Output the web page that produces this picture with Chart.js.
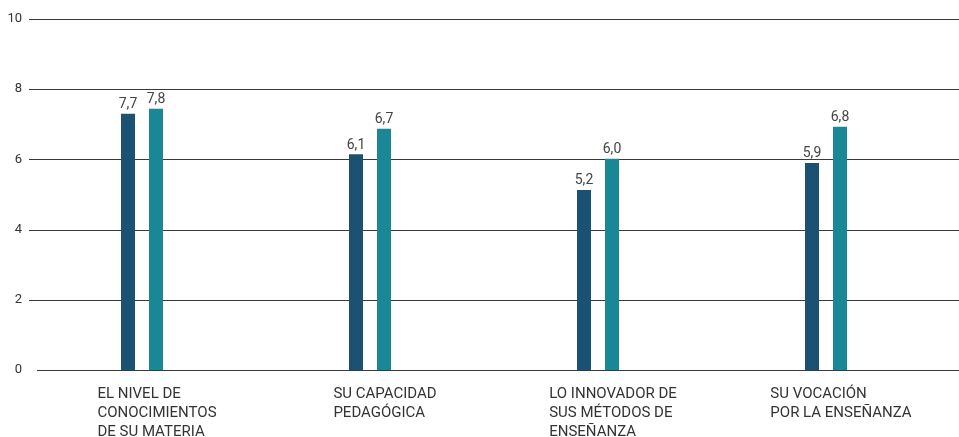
<!DOCTYPE html>
<html>
<head>
<meta charset="utf-8">
<script src="https://cdn.jsdelivr.net/npm/chart.js@4"></script>
<style>
  html, body { margin: 0; padding: 0; background: #fff; }
</style>
</head>
<body>
<canvas id="graficoProfesores" width="959" height="437"></canvas>
<script>
// Categorías (cada una en varias líneas)
const categorias = [
    ['EL NIVEL DE', 'CONOCIMIENTOS', 'DE SU MATERIA'],
    ['SU CAPACIDAD', 'PEDAGÓGICA'],
    ['LO INNOVADOR DE', 'SUS MÉTODOS DE', 'ENSEÑANZA'],
    ['SU VOCACIÓN', 'POR LA ENSEÑANZA']
];

// Alturas de las barras tal como aparecen dibujadas
const serieOscura = [7.3, 6.15, 5.13, 5.9];
const serieTurquesa = [7.44, 6.87, 6.02, 6.93];

// Valores impresos sobre cada barra
const etiquetasOscura = ['7,7', '6,1', '5,2', '5,9'];
const etiquetasTurquesa = ['7,8', '6,7', '6,0', '6,8'];

// Marcas del eje Y
const marcasY = [0, 2, 4, 6, 8, 10];

const colorOscuro = '#1b5274';
const colorTurquesa = '#1a8796';

// Líneas horizontales que llegan hasta el borde derecho
const lineasFondo = {
    id: 'lineasFondo',
    beforeDatasetsDraw(chart) {
        const { ctx, scales: { y } } = chart;
        ctx.save();
        ctx.strokeStyle = '#3a3a3a';
        ctx.lineWidth = 1;
        marcasY.forEach(v => {
            const py = Math.round(y.getPixelForValue(v)) + 0.5;
            ctx.beginPath();
            ctx.moveTo(v === 0 ? 37 : 29, py);
            ctx.lineTo(chart.width, py);
            ctx.stroke();
        });
        ctx.restore();
    }
};

// Valores sobre las barras y etiquetas de categoría alineadas a la izquierda
const textos = {
    id: 'textos',
    afterDatasetsDraw(chart) {
        const { ctx, scales: { x } } = chart;
        ctx.save();
        ctx.font = '14px Roboto';
        ctx.fillStyle = '#444';
        ctx.textAlign = 'center';
        ctx.textBaseline = 'bottom';
        [etiquetasOscura, etiquetasTurquesa].forEach((etq, d) => {
            chart.getDatasetMeta(d).data.forEach((bar, i) => {
                ctx.fillText(etq[i], bar.x, bar.y - 2);
            });
        });

        ctx.font = '15px Roboto';
        ctx.fillStyle = '#333';
        ctx.textAlign = 'left';
        ctx.textBaseline = 'alphabetic';
        categorias.forEach((lineas, i) => {
            const centro = x.getPixelForValue(i);
            const ancho = Math.max(...lineas.map(l => ctx.measureText(l).width));
            const x0 = centro - ancho / 2 + 15;
            lineas.forEach((l, j) => {
                ctx.fillText(l, x0, 398 + j * 19);
            });
        });
        ctx.restore();
    }
};

const ctx = document.getElementById('graficoProfesores').getContext('2d');
new Chart(ctx, {
    type: 'bar',
    data: {
        labels: categorias,
        datasets: [{
            data: serieOscura,
            backgroundColor: colorOscuro
        }, {
            data: serieTurquesa,
            backgroundColor: colorTurquesa
        }]
    },
    options: {
        responsive: false,
        animation: false,
        categoryPercentage: 0.2456,
        barPercentage: 0.5,
        layout: { padding: { top: 19, right: 19, bottom: 67, left: 0 } },
        plugins: {
            legend: { display: false },
            tooltip: { enabled: false }
        },
        scales: {
            x: {
                display: false
            },
            y: {
                min: 0,
                max: 10,
                afterFit(scale) { scale.width = 28; },
                afterBuildTicks(scale) { scale.ticks = marcasY.map(v => ({ value: v })); },
                grid: { display: false, drawTicks: false },
                border: { display: false },
                ticks: {
                    padding: 6,
                    color: '#333',
                    font: { family: 'Roboto', size: 13 }
                }
            }
        }
    },
    plugins: [lineasFondo, textos]
});
</script>
</body>
</html>
